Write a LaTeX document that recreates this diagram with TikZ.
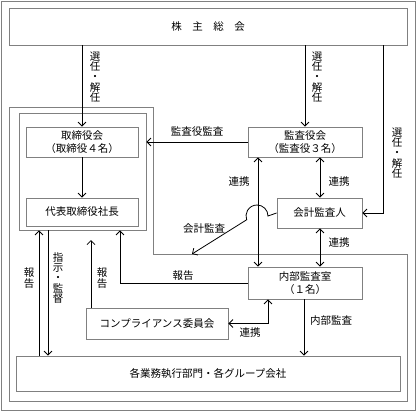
\documentclass[tikz,border=0pt]{standalone}
\usepackage{fontspec}
\setmainfont{Noto Sans CJK JP}
\usetikzlibrary{arrows.meta}
\definecolor{boxgray}{gray}{0.5}
\begin{document}
\begin{tikzpicture}[x=1pt,y=-1pt,
 box/.style={draw=boxgray, line width=0.8pt, fill=white, inner sep=0pt, align=center, font=\fontsize{10.5}{13}\selectfont},
 frame/.style={draw=boxgray, line width=0.8pt},
 conn/.style={line width=0.8pt, draw=black},
 arr/.style={conn, -{Straight Barb[length=4pt,width=8pt]}},
 darr/.style={conn, {Straight Barb[length=4pt,width=8pt]}-{Straight Barb[length=4pt,width=8pt]}},
 lbl/.style={font=\fontsize{10.5}{12}\selectfont, inner sep=0pt},
 vlbl/.style={font=\fontsize{10.5}{10.2}\selectfont, inner sep=0pt, align=center}]
\useasboundingbox (0,0) rectangle (417,412);
% outer frame
\draw[frame] (1,1) rectangle (415,410);
% L-shaped region
\draw[frame] (9,107) -- (153,107) -- (153,254) -- (407,254) -- (407,401) -- (9,401) -- cycle;
% board frame
\node[frame, minimum width=127pt, minimum height=117pt, inner sep=0pt] (bframe) at (82.5,171.5) {};
% boxes
\node[box, minimum width=398pt, minimum height=37pt] (soukai) at (208,26.5) {株　主　総　会};
\node[box, minimum width=112pt, minimum height=30pt] (tori) at (82,142) {取締役会\\（取締役４名）};
\node[box, minimum width=112pt, minimum height=28pt] (daihyo) at (82,212) {代表取締役社長};
\node[box, minimum width=114pt, minimum height=30pt] (kansa) at (305,142) {監査役会\\（監査役３名）};
\node[box, minimum width=85pt, minimum height=30pt] (kaikei) at (319.5,213) {会計監査人};
\node[box, minimum width=114pt, minimum height=32pt] (naibu) at (305,283) {内部監査室\\（１名）};
\node[box, minimum width=142pt, minimum height=31pt] (comp) at (157,323.5) {コンプライアンス委員会};
\node[box, minimum width=384pt, minimum height=35pt] (kaku) at (208,373.5) {各業務執行部門・各グループ会社};
% connectors from shareholders
\draw[arr] (soukai.south -| tori) -- (tori.north);
\draw[arr] (soukai.south -| kansa) -- (kansa.north);
\coordinate (rc) at (383,213);
\draw[arr] (soukai.south -| rc) -- (rc) -- (kaikei.east);
\node[vlbl] (l1) at (95,77) {選\\任\\・\\解\\任};
\node[vlbl] (l2) at (317,77) {選\\任\\・\\解\\任};
\node[vlbl] (l3) at (397,153) {選\\任\\・\\解\\任};
% audit by auditors
\draw[arr] (kansa.west) -- (kansa.west -| bframe.east);
\node[lbl] (l4) at (197,132) {監査役監査};
% board to president
\draw[arr] (tori.south) -- (daihyo.north);
% cooperation
\draw[darr] (kansa.south -| 320,0) -- (kaikei.north -| 320,0);
\node[lbl] (l5) at (339,182) {連携};
\draw[darr] (kaikei.south -| 320,0) -- (naibu.north -| 320,0);
\node[lbl] (l6) at (339,243) {連携};
\draw[darr] (kansa.south -| 258,0) -- (naibu.north -| 258,0);
\node[lbl] (l7) at (239,182) {連携};
% accounting audit with hop
\coordinate (kt) at (192,254);
\draw[arr] (kaikei.west) -- (268,216) arc[start angle=0, end angle=-200, radius=11] -- (kt);
\node[lbl] (l8) at (204,229) {会計監査};
% internal audit report to president
\coordinate (rp) at (120,283);
\draw[arr] (naibu.west) -- (rp) -- (rp |- bframe.south);
\node[lbl] (l9) at (183,276) {報告};
% left arrows
\draw[arr] (kaku.north -| 39,0) -- (bframe.south -| 39,0);
\node[vlbl] (l10) at (29,278) {報\\告};
\draw[arr] (bframe.south -| 48,0) -- (kaku.north -| 48,0);
\node[vlbl] (l11) at (58,278) {指\\示\\・\\監\\督};
\coordinate (ct) at (91,240);
\draw[arr] (comp.north -| ct) -- (ct);
\node[vlbl] (l12) at (102,278) {報\\告};
% internal audit dept to compliance
\coordinate (nc) at (268,323.5);
\draw[darr] (naibu.south -| nc) -- (nc) -- (comp.east);
\node[lbl] (l13) at (250,333) {連携};
% internal audit
\draw[arr] (naibu.south -| 304,0) -- (kaku.north -| 304,0);
\node[lbl] (l14) at (331,321) {内部監査};
\end{tikzpicture}
\end{document}
